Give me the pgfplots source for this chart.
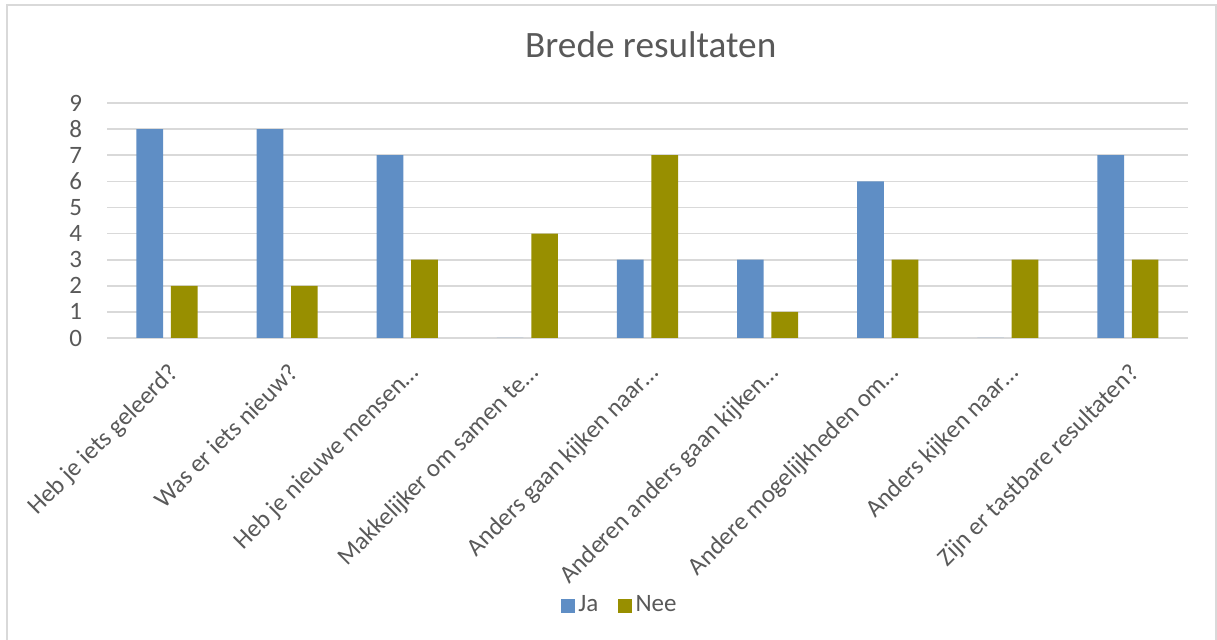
\documentclass[border=0pt]{standalone}
\usepackage{pgfplots}
\pgfplotsset{compat=1.18}
\usepackage{fontspec}
\setmainfont{Carlito}
\definecolor{jablue}{RGB}{95,142,197}
\definecolor{neeolive}{RGB}{152,143,0}
\definecolor{gridc}{RGB}{217,217,217}
\definecolor{txt}{RGB}{89,89,89}
\newcommand\xl[1]{\vphantom{Hdl}\raisebox{-5.87pt}{#1}\hspace*{5.87pt}}
\begin{document}
\begin{tikzpicture}
\path[use as bounding box] (0pt,0pt) rectangle (438.12pt,230.04pt);
\draw[gridc, line width=0.6pt] (2.52pt,-2pt) -- (2.52pt,228.24pt) -- (437.76pt,228.24pt) -- (437.76pt,-2pt);
\begin{axis}[
  at={(38.52pt,108.36pt)}, anchor=south west,
  scale only axis, width=389.16pt, height=84.6pt,
  ybar, bar width=9.6pt,
  xmin=-0.5, xmax=8.5, ymin=0, ymax=9,
  ytick={0,...,9}, xtick={0,...,8},
  xticklabels={\xl{Heb je iets geleerd?}, \xl{Was er iets nieuw?}, \xl{Heb je nieuwe mensen\ldots}, \xl{Makkelijker om samen te\ldots}, \xl{Anders gaan kijken naar\ldots}, \xl{Anderen anders gaan kijken\ldots}, \xl{Andere mogelijkheden om\ldots}, \xl{Anders kijken naar\ldots}, \xl{Zijn er tastbare resultaten?}},
  yticklabel={\makebox[0pt][r]{\pgfmathprintnumber{\tick}\hspace*{8.3pt}}},
  axis line style={draw=none},
  major tick length=0pt,
  ymajorgrids=true, xmajorgrids=false,
  major grid style={draw=gridc, line width=0.6pt},
  /pgf/number format/assume math mode=true,
  tick label style={font=\fontsize{9}{10}\selectfont, text=txt},
  yticklabel style={anchor=east, inner sep=0pt},
  xticklabel style={rotate=45, anchor=north east, inner sep=0pt},
  title={Brede resultaten},
  title style={at={(0.503,1.247)}, anchor=center, font=\fontsize{13.4}{15}\selectfont, text=txt},
  every axis title shift=0pt,
  legend columns=2,
  legend style={at={(0.475,-1.14)}, anchor=center, draw=none, fill=none,
    font=\fontsize{9}{10}\selectfont, text=txt,
    /tikz/every even column/.append style={column sep=6pt},
    nodes={inner sep=1.2pt}},
]
\addplot[fill=jablue, draw=none, bar shift=-6.2pt,
  legend image code/.code={\fill[jablue] (0pt,-2.5pt) rectangle (5pt,2.5pt);}]
  coordinates {(0,8) (1,8) (2,7) (3,0) (4,3) (5,3) (6,6) (7,0) (8,7)};
\addplot[fill=neeolive, draw=none, bar shift=6.2pt,
  legend image code/.code={\fill[neeolive] (0pt,-2.5pt) rectangle (5pt,2.5pt);}]
  coordinates {(0,2) (1,2) (2,3) (3,4) (4,7) (5,1) (6,3) (7,3) (8,3)};
\legend{Ja, Nee}
\end{axis}
\end{tikzpicture}
\end{document}
